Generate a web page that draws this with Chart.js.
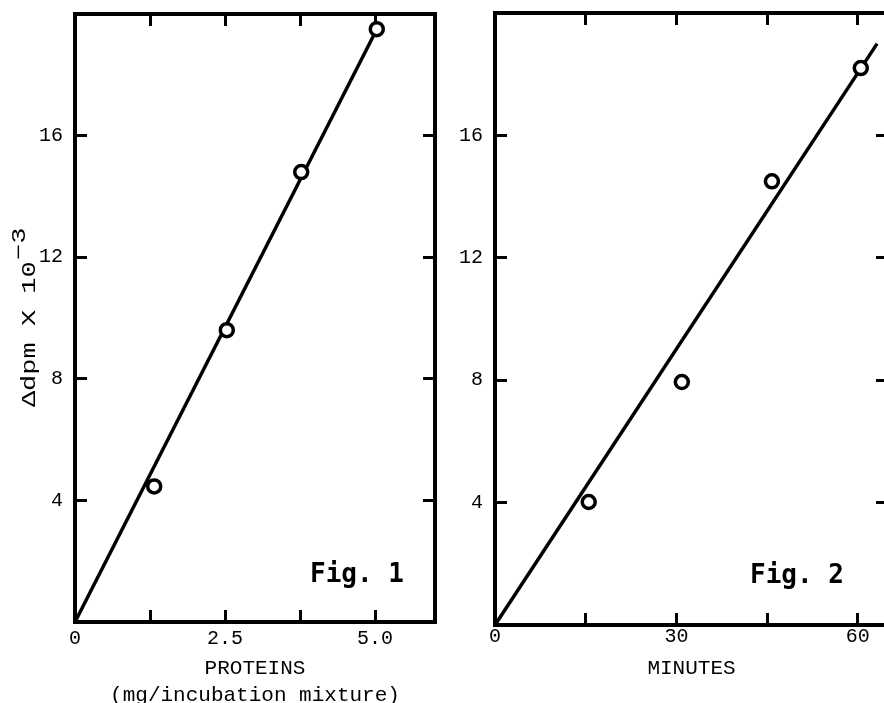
<!DOCTYPE html>
<html><head><meta charset="utf-8">
<script src="https://cdn.jsdelivr.net/npm/chart.js@4.4.0/dist/chart.umd.min.js"></script>
<style>
html,body{margin:0;padding:0;background:#fff;overflow:hidden;width:884px;height:703px;position:relative;}
#c1{position:absolute;left:0;top:0;}
#c2{position:absolute;left:445px;top:0;}
</style></head><body>
<canvas id="c1" width="445" height="710"></canvas>
<canvas id="c2" width="460" height="710"></canvas>
<script>
// ---- Fig. 1 : proteins ----
const proteinMg = [1.32, 2.53, 3.77, 5.03];
const proteinDpm = [4.46, 9.6, 14.8, 19.5];
const proteinFitX = [0, 5.03];
const proteinFitY = [0, 19.5];
const proteinTicks = [0, 1.25, 2.5, 3.75, 5.0];
const proteinTickLabels = ['0', '', '2.5', '', '5.0'];
// ---- Fig. 2 : minutes ----
const minutes = [15.5, 30.9, 45.8, 60.5];
const minutesDpm = [4.02, 7.94, 14.5, 18.2];
const minutesFitX = [0, 63.2];
const minutesFitY = [0, 19.0];
const minuteTicks = [0, 15, 30, 45, 60];
const minuteTickLabels = ['0', '', '30', '', '60'];
// ---- shared ----
const dpmTicks = [4, 8, 12, 16];
const dpmTickLabels = ['4', '8', '12', '16'];
const yTitleMain = 'Δdpm X 10';
const yTitleSup = '−3';
const xTitle1 = ['PROTEINS', '(mg/incubation mixture)'];
const xTitle2 = 'MINUTES';
const figLabel1 = 'Fig. 1';
const figLabel2 = 'Fig. 2';

const INK = '#000';
const MONO = "'Liberation Mono', 'DejaVu Sans Mono', monospace";

function pts(xs, ys) { return xs.map((x, i) => ({x: x, y: ys[i]})); }

function edgeScale(position, min, max, tickVals, labels, size, labelPad, title) {
  return {
    type: 'linear', position: position, min: min, max: max, display: true,
    afterBuildTicks: s => { s.ticks = tickVals.map(v => ({value: v})); },
    afterFit: s => {
      if (s.isHorizontal()) { s.height = size; s.paddingLeft = 0; s.paddingRight = 0; }
      else { s.width = size; s.paddingTop = 0; s.paddingBottom = 0; }
    },
    grid: { drawOnChartArea: false, drawTicks: true, tickLength: -12, tickWidth: 3,
            tickColor: INK, color: INK, lineWidth: 3 },
    border: { display: true, color: INK, width: 4 },
    ticks: labels ? {
      display: true, autoSkip: false, maxRotation: 0, minRotation: 0, padding: labelPad,
      color: INK, font: {family: MONO, size: 20},
      callback: v => { const i = tickVals.indexOf(v); return i >= 0 ? labels[i] : ''; }
    } : { display: false },
    title: title || { display: false }
  };
}

const overlay = {
  id: 'overlay',
  afterDraw(chart, args, o) {
    const {ctx, chartArea} = chart;
    ctx.save();
    ctx.fillStyle = INK;
    ctx.font = "bold 26px 'DejaVu Sans Mono', monospace";
    ctx.textAlign = 'left';
    ctx.textBaseline = 'alphabetic';
    ctx.fillText(o.fig, chartArea.left + o.figDx, chartArea.bottom - o.figDy);
    ctx.restore();
    if (o.yTitle) {
      ctx.save();
      ctx.fillStyle = INK;
      ctx.font = '20px ' + MONO;
      ctx.textAlign = 'left';
      ctx.textBaseline = 'alphabetic';
      const cy = (chartArea.top + chartArea.bottom) / 2;
      ctx.translate(35, cy);
      ctx.rotate(-Math.PI / 2);
      ctx.scale(1.35, 1);
      const wMain = ctx.measureText(yTitleMain).width;
      const wSup = ctx.measureText(yTitleSup).width;
      const x0 = -(wMain + wSup) / 2;
      ctx.fillText(yTitleMain, x0, 0);
      ctx.fillText(yTitleSup, x0 + wMain + 1, -10);
      ctx.restore();
    }
  }
};

function makeChart(el, p) {
  return new Chart(el, {
    type: 'scatter',
    data: { datasets: [
      { data: pts(p.xs, p.ys), showLine: false, pointStyle: 'circle', pointRadius: 6.5,
        pointHoverRadius: 6.5, pointBorderWidth: 3.5, pointBackgroundColor: '#fff',
        pointBorderColor: INK, clip: false },
      { data: pts(p.fitX, p.fitY), showLine: true, pointRadius: 0, borderWidth: 3.5,
        borderColor: INK, clip: false }
    ]},
    options: {
      responsive: false, animation: false, events: [],
      layout: { padding: 0 },
      plugins: { legend: {display: false}, tooltip: {enabled: false}, overlay: p.overlay },
      scales: {
        x: edgeScale('bottom', 0, p.xMax, p.xTicks, p.xLabels, p.bottomH, p.xLabelPad, {
          display: true, text: p.xTitle, color: INK,
          font: {family: MONO, size: 21, lineHeight: 27 / 21},
          padding: {top: 0, bottom: p.xTitlePad}
        }),
        xTop: edgeScale('top', 0, p.xMax, p.xTicks.slice(1), null, p.topH, 0),
        y: edgeScale('left', 0, 20, dpmTicks, dpmTickLabels, p.leftW, 24),
        yRight: edgeScale('right', 0, 20, dpmTicks, null, p.rightW, 0)
      }
    },
    plugins: [overlay]
  });
}

makeChart(document.getElementById('c1'), {
  xs: proteinMg, ys: proteinDpm, fitX: proteinFitX, fitY: proteinFitY,
  xMax: 6, xTicks: proteinTicks, xLabels: proteinTickLabels, xTitle: xTitle1,
  bottomH: 88, topH: 14, leftW: 75, rightW: 9, xLabelPad: 17, xTitlePad: 1.5,
  overlay: { fig: figLabel1, figDx: 235, figDy: 40, yTitle: true }
});
makeChart(document.getElementById('c2'), {
  xs: minutes, ys: minutesDpm, fitX: minutesFitX, fitY: minutesFitY,
  xMax: 65, xTicks: minuteTicks, xLabels: minuteTickLabels, xTitle: xTitle2,
  bottomH: 85, topH: 13, leftW: 50, rightW: 17, xLabelPad: 12, xTitlePad: 28,
  overlay: { fig: figLabel2, figDx: 255, figDy: 42, yTitle: false }
});
</script>
</body></html>
